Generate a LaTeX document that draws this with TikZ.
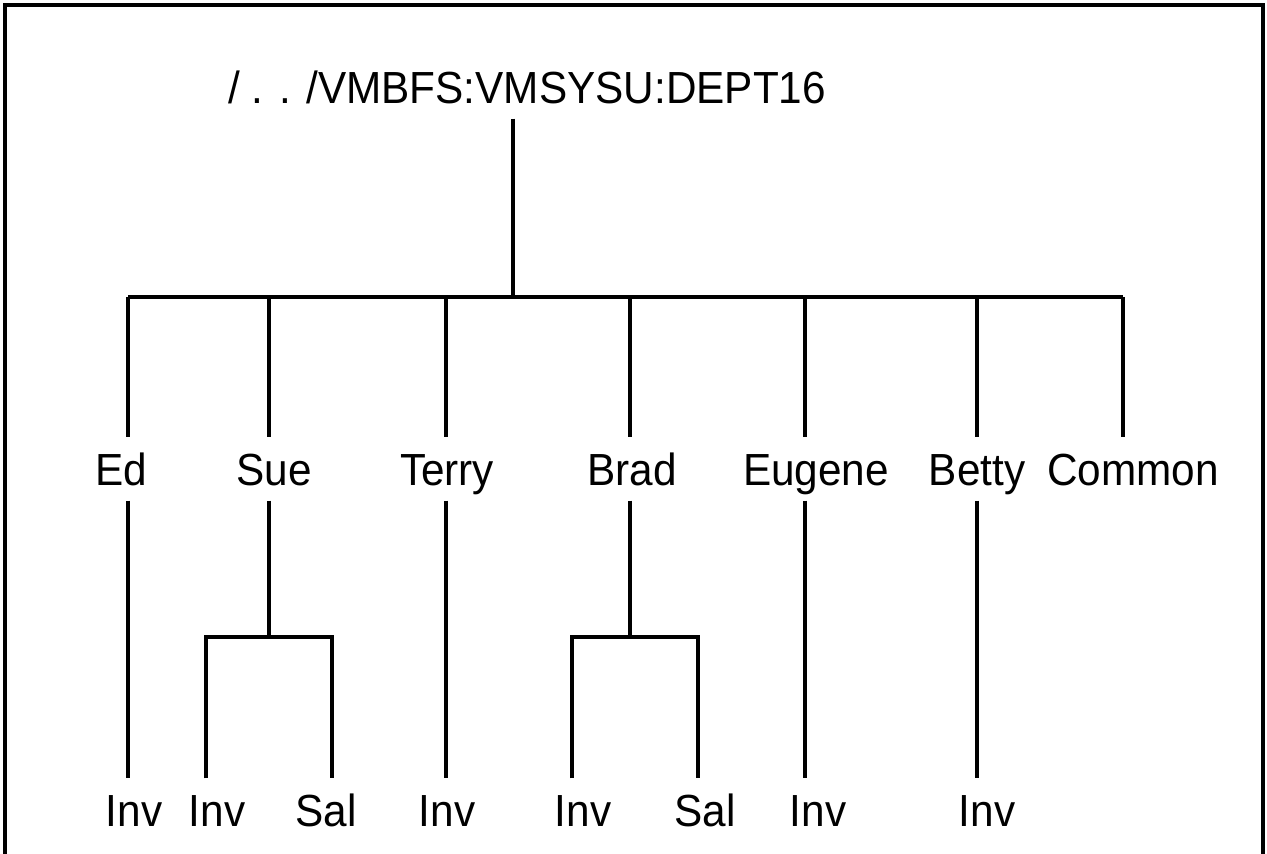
\documentclass[tikz,border=0pt]{standalone}
\usepackage{fontspec}
\setmainfont{Liberation Sans}[FakeStretch=0.94]
\usetikzlibrary{positioning}

\begin{document}
\begin{tikzpicture}[x=1pt,y=-1pt,line width=3.2pt,
  dir node/.style={inner sep=0pt,minimum height=60pt,text height=32pt,text depth=0pt,
    font=\fontsize{45}{52}\selectfont}]
  \useasboundingbox (0,0) rectangle (1267,854);
  % frame, open at the bottom
  \draw[line width=3.5pt] (5,854) -- (5,5) -- (1263,5) -- (1263,854);

  % directories
  \node[dir node] (root) at (527,87) {/ . . /VMBFS:VMSYSU:DEPT16};
  \node[dir node] (ed) at (121,469) {Ed};
  \node[dir node] (sue) at (274,469) {Sue};
  \node[dir node] (terry) at (447,469) {Terry};
  \node[dir node] (brad) at (632,469) {Brad};
  \node[dir node] (eugene) at (816,469) {Eugene};
  \node[dir node] (betty) at (977,469) {Betty};
  \node[dir node] (common) at (1133,469) {Common};

  \node[dir node] (ed inv) at (134,810) {Inv};
  \node[dir node] (sue inv) at (217,810) {Inv};
  \node[dir node] (sue sal) at (326,810) {Sal};
  \node[dir node] (terry inv) at (447,810) {Inv};
  \node[dir node] (brad inv) at (583,810) {Inv};
  \node[dir node] (brad sal) at (705,810) {Sal};
  \node[dir node] (eugene inv) at (818,810) {Inv};
  \node[dir node] (betty inv) at (987,810) {Inv};

  % branch points
  \coordinate (hub) at (513,297);
  \coordinate (ed top) at (128,297);
  \coordinate (sue top) at (269,297);
  \coordinate (terry top) at (446,297);
  \coordinate (brad top) at (630,297);
  \coordinate (eugene top) at (805,297);
  \coordinate (betty top) at (977,297);
  \coordinate (common top) at (1123,297);
  \coordinate (sue fork) at (269,637);
  \coordinate (sue inv top) at (206,637);
  \coordinate (sue sal top) at (332,637);
  \coordinate (brad fork) at (630,637);
  \coordinate (brad inv top) at (572,637);
  \coordinate (brad sal top) at (698,637);

  % tree lines
  \draw (root.south -| hub) -- (hub);
  \draw (ed top) -- (common top);
  \draw (ed top) -- (ed top |- ed.north);
  \draw (sue top) -- (sue top |- sue.north);
  \draw (terry top) -- (terry top |- terry.north);
  \draw (brad top) -- (brad top |- brad.north);
  \draw (eugene top) -- (eugene top |- eugene.north);
  \draw (betty top) -- (betty top |- betty.north);
  \draw (common top) -- (common top |- common.north);

  \draw (ed top |- ed.south) -- (ed top |- ed inv.north);
  \draw (sue top |- sue.south) -- (sue fork);
  \draw (sue inv top |- sue inv.north) -- (sue inv top) -- (sue sal top) -- (sue sal top |- sue sal.north);
  \draw (terry top |- terry.south) -- (terry top |- terry inv.north);
  \draw (brad top |- brad.south) -- (brad fork);
  \draw (brad inv top |- brad inv.north) -- (brad inv top) -- (brad sal top) -- (brad sal top |- brad sal.north);
  \draw (eugene top |- eugene.south) -- (eugene top |- eugene inv.north);
  \draw (betty top |- betty.south) -- (betty top |- betty inv.north);
\end{tikzpicture}
\end{document}
